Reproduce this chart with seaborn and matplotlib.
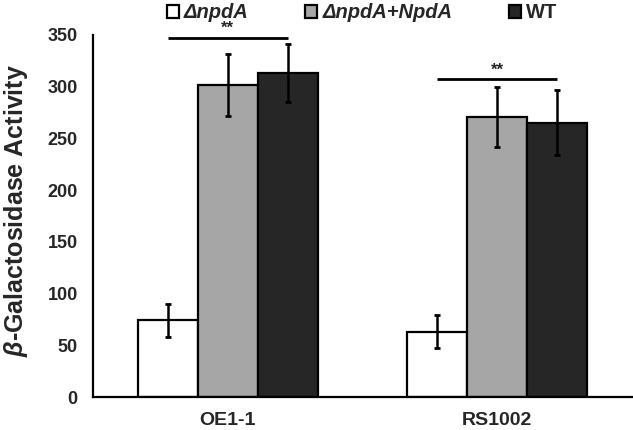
import matplotlib
matplotlib.use("Agg")
import matplotlib.pyplot as plt
import seaborn as sns
import pandas as pd

# ── data ─────────────────────────────────────────────────────
strains = ["OE1-1", "RS1002"]
groups = ["ΔnpdA", "ΔnpdA+NpdA", "WT"]
mutant_vals = [74, 63]
mutant_err = [16, 16]
comp_vals = [302, 270.5]
comp_err = [30, 29]
wt_vals = [313.5, 265]
wt_err = [28, 31.5]
sig_y = [347.5, 307]
sig_text = "**"
yticks = [0, 50, 100, 150, 200, 250, 300, 350]

colors = ["#FFFFFF", "#A6A6A6", "#262626"]

df = pd.DataFrame({
    "strain": strains * 3,
    "group": [g for g in groups for _ in strains],
    "value": mutant_vals + comp_vals + wt_vals,
    "err": mutant_err + comp_err + wt_err,
})

sns.set_style("white")
plt.rcParams["font.family"] = ["Liberation Sans", "DejaVu Sans"]
plt.rcParams["mathtext.fontset"] = "custom"
plt.rcParams["mathtext.it"] = "Liberation Sans:italic:bold"
plt.rcParams["mathtext.rm"] = "Liberation Sans:bold"

fig = plt.figure(figsize=(6.33, 4.30), dpi=100)
ax = fig.add_axes([93 / 633, 33 / 430, 539 / 633, 362 / 430])

sns.barplot(data=df, x="strain", y="value", hue="group",
            order=strains, hue_order=groups, palette=colors,
            edgecolor="black", linewidth=1.6, width=0.667, gap=0,
            errorbar=None, legend=False, ax=ax)

# error bars on top of each bar
centers = []
for cont, g in zip(ax.containers, groups):
    sub = df[df["group"] == g].set_index("strain").loc[strains]
    xs = [b.get_x() + b.get_width() / 2 for b in cont]
    centers.append(xs)
    ax.errorbar(xs, sub["value"], yerr=sub["err"], fmt="none",
                ecolor="black", elinewidth=1.8, capsize=2.5,
                capthick=2, zorder=5)

# significance lines (white bar centre to WT bar centre)
for j, y in enumerate(sig_y):
    x0, x1 = centers[0][j], centers[2][j]
    ax.plot([x0, x1], [y, y], color="black", lw=2, clip_on=False,
            solid_capstyle="butt")
    ax.text((x0 + x1) / 2, y + 1.5, sig_text, ha="center", va="bottom",
            fontsize=12, fontweight="bold")

ax.set_xlim(-0.5, 1.5)
ax.set_ylim(0, 350)
ax.set_yticks(yticks)
ax.set_yticklabels([str(t) for t in yticks], fontsize=13,
                   fontweight="bold")
ax.set_xticks([0, 1])
ax.set_xticklabels(strains, fontsize=14, fontweight="bold")
ax.set_xticks([-0.5, 0.5, 1.5], minor=True)
ax.tick_params(axis="x", which="major", length=0, pad=11)
ax.tick_params(axis="x", which="minor", length=5, width=1.6,
               direction="out", color="black")
ax.tick_params(axis="y", length=5, width=1.6, direction="out",
               color="black", pad=6)
ax.set_xlabel("")
ax.set_ylabel("")
for side in ["top", "right"]:
    ax.spines[side].set_visible(False)
for side in ["left", "bottom"]:
    ax.spines[side].set_linewidth(1.6)
    ax.spines[side].set_color("black")

fig.text(16 / 633, 1 - 211 / 430, r"$\beta$-Galactosidase Activity",
         rotation=90, ha="center", va="center", fontsize=18,
         fontweight="bold")

handles = [c[0] for c in ax.containers]
leg = fig.legend(handles, groups, loc="center", ncol=3, frameon=False,
                 bbox_to_anchor=(0.572, 0.970),
                 prop={"weight": "bold", "size": 14.5},
                 handlelength=0.6, handleheight=0.6,
                 handletextpad=0.25, columnspacing=2.8,
                 borderaxespad=0, borderpad=0)
for t in leg.get_texts()[:2]:
    t.set_fontstyle("italic")

fig.savefig("out.png", dpi=100)
